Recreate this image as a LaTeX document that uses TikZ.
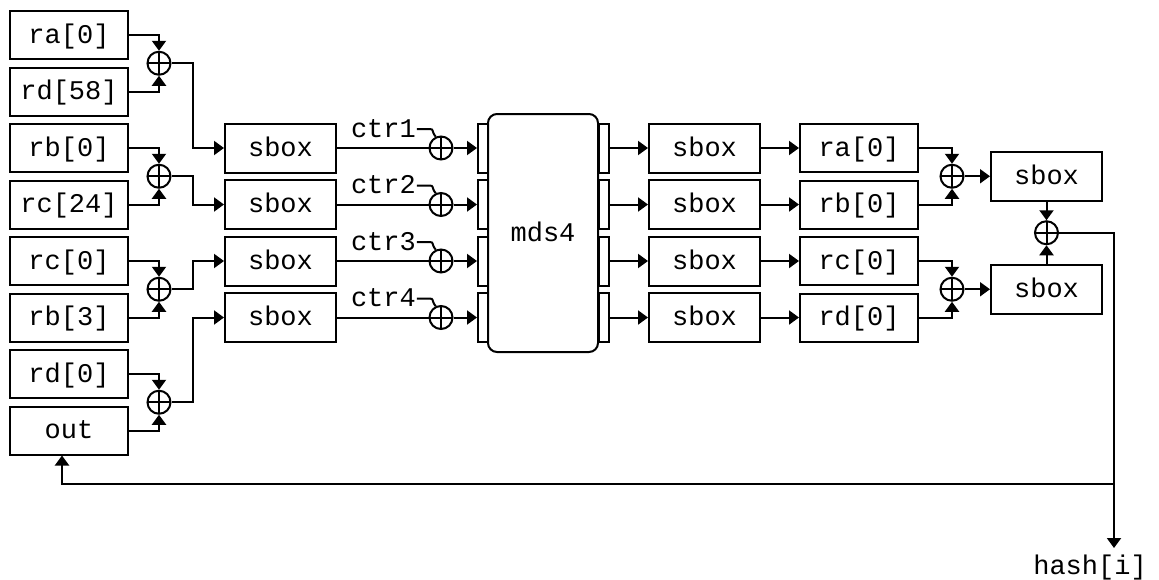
\documentclass[tikz,border=0pt]{standalone}
\usepackage{fontspec}
\setmonofont{Liberation Mono}
\usetikzlibrary{arrows.meta,calc}
\tikzset{
 arr/.style={-{Triangle[length=10pt,width=14pt]}},
 txt/.style={font=\fontsize{27}{32}\ttfamily, text height=20pt, text depth=4pt},
 reg/.style={draw, txt, minimum width=118pt, minimum height=48pt, inner sep=0pt},
 sb/.style={reg, minimum width=111pt, minimum height=49pt},
 xr/.style={draw, circle, minimum size=23pt, inner sep=0pt,
   path picture={\draw (path picture bounding box.north) -- (path picture bounding box.south)
     (path picture bounding box.west) -- (path picture bounding box.east);}},
 port/.style={draw, minimum width=10pt, minimum height=49pt, inner sep=0pt},
 lbl/.style={txt, inner sep=0pt},
}
\begin{document}
\begin{tikzpicture}[x=1pt,y=-1pt,line width=2pt]
\useasboundingbox (0,0) rectangle (1159,579);
% left registers
\node[reg] (ra) at (69,35) {ra[0]};
\node[reg] (rd58) at (69,91.5) {rd[58]};
\node[reg] (rb) at (69,148) {rb[0]};
\node[reg] (rc24) at (69,204.5) {rc[24]};
\node[reg] (rc) at (69,261) {rc[0]};
\node[reg] (rb3) at (69,317.5) {rb[3]};
\node[reg] (rd) at (69,374) {rd[0]};
\node[reg] (out) at (69,430.5) {out};
% left xors
\node[xr] (xa) at (159,63.25) {};
\node[xr] (xb) at (159,176.25) {};
\node[xr] (xc) at (159,289.25) {};
\node[xr] (xd) at (159,402.25) {};
% sbox column 1
\node[sb] (s1) at (280.5,148) {sbox};
\node[sb] (s2) at (280.5,204.5) {sbox};
\node[sb] (s3) at (280.5,261) {sbox};
\node[sb] (s4) at (280.5,317.5) {sbox};
% ctr xors
\node[xr] (k1) at (441,148) {};
\node[xr] (k2) at (441,204.5) {};
\node[xr] (k3) at (441,261) {};
\node[xr] (k4) at (441,317.5) {};
\node[lbl,anchor=west] (c1) at (350,129) {ctr1};
\node[lbl,anchor=west] (c2) at (350,185.5) {ctr2};
\node[lbl,anchor=west] (c3) at (350,242) {ctr3};
\node[lbl,anchor=west] (c4) at (350,298.5) {ctr4};
% mds4
\node[draw, rounded corners=9pt, minimum width=110pt, minimum height=238pt, inner sep=0pt, txt] (mds) at (543,233) {mds4};
\node[port] (lp1) at (483,148) {};
\node[port] (lp2) at (483,204.5) {};
\node[port] (lp3) at (483,261) {};
\node[port] (lp4) at (483,317.5) {};
\node[port] (rp1) at (603.5,148) {};
\node[port] (rp2) at (603.5,204.5) {};
\node[port] (rp3) at (603.5,261) {};
\node[port] (rp4) at (603.5,317.5) {};
% sbox column 2
\node[sb] (t1) at (704.5,148) {sbox};
\node[sb] (t2) at (704.5,204.5) {sbox};
\node[sb] (t3) at (704.5,261) {sbox};
\node[sb] (t4) at (704.5,317.5) {sbox};
% register column
\node[reg] (q1) at (859,148) {ra[0]};
\node[reg] (q2) at (859,204.5) {rb[0]};
\node[reg] (q3) at (859,261) {rc[0]};
\node[reg] (q4) at (859,317.5) {rd[0]};
% right xors and sboxes
\node[xr] (y1) at (952,176.25) {};
\node[xr] (y2) at (952,289.25) {};
\node[sb] (f1) at (1046.5,176.25) {sbox};
\node[sb] (f2) at (1046.5,289.25) {sbox};
\node[xr] (xm) at (1046.5,232.75) {};
\coordinate (br) at (1114,484);
\coordinate (hend) at (1114,548);
\node[lbl,anchor=base] (hash) at (1090,574) {hash[i]};
% connectors left
\draw[arr] (ra.east) -| (xa.north);
\draw[arr] (rd58.east) -| (xa.south);
\draw[arr] (rb.east) -| (xb.north);
\draw[arr] (rc24.east) -| (xb.south);
\draw[arr] (rc.east) -| (xc.north);
\draw[arr] (rb3.east) -| (xc.south);
\draw[arr] (rd.east) -| (xd.north);
\draw[arr] (out.east) -| (xd.south);
\draw[arr] (xa.east) -- ++(21,0) |- (s1.west);
\draw[arr] (xb.east) -- ++(21,0) |- (s2.west);
\draw[arr] (xc.east) -- ++(21,0) |- (s3.west);
\draw[arr] (xd.east) -- ++(21,0) |- (s4.west);
% sbox -> ctr xor -> mds
\foreach \i in {1,2,3,4}{
  \draw (s\i.east) -- (k\i.west);
  \draw[arr] (k\i.east) -- (lp\i.west);
  \draw (c\i.east) -- ++(12,0) .. controls +(6,0) and +(-5,-6) .. (k\i.115);
  \draw[arr] (rp\i.east) -- (t\i.west);
  \draw[arr] (t\i.east) -- (q\i.west);
}
% right side
\draw[arr] (q1.east) -| (y1.north);
\draw[arr] (q2.east) -| (y1.south);
\draw[arr] (q3.east) -| (y2.north);
\draw[arr] (q4.east) -| (y2.south);
\draw[arr] (y1.east) -- (f1.west);
\draw[arr] (y2.east) -- (f2.west);
\draw[arr] (f1.south) -- (xm.north);
\draw[arr] (f2.north) -- (xm.south);
\draw[arr] (xm.east) -| (hend);
\draw[arr] (br) -| ([xshift=-7pt]out.south);
\end{tikzpicture}
\end{document}
